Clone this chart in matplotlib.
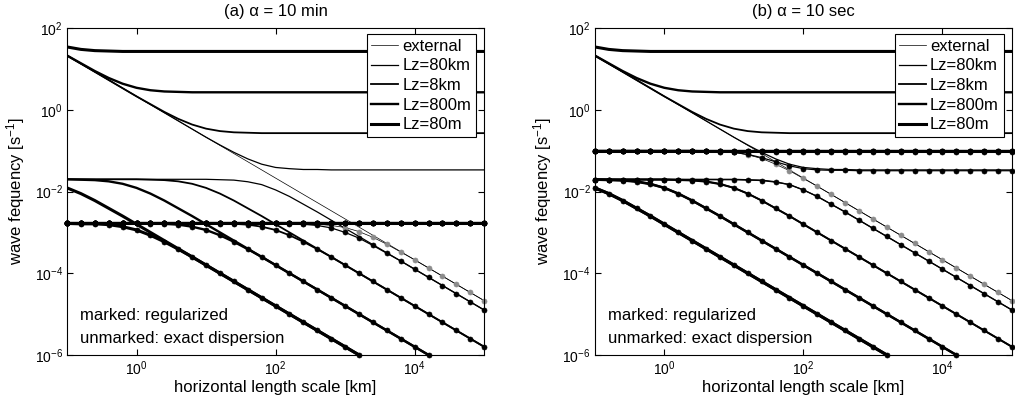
import numpy as np
import matplotlib
matplotlib.use('Agg')
import matplotlib.pyplot as plt

plt.rcParams['font.family'] = ['Liberation Sans', 'DejaVu Sans']
plt.rcParams['mathtext.fontset'] = 'custom'
plt.rcParams['mathtext.rm'] = 'Liberation Sans'
plt.rcParams['mathtext.it'] = 'Liberation Sans:italic'
plt.rcParams['font.size'] = 12

# === log10 of horizontal length scale [km], one point every 0.2 decades ===
LOG_L = [-1.0, -0.8, -0.6, -0.4, -0.2, 0.0, 0.2, 0.4, 0.6, 0.8,
         1.0, 1.2, 1.4, 1.6, 1.8, 2.0, 2.2, 2.4, 2.6, 2.8,
         3.0, 3.2, 3.4, 3.6, 3.8, 4.0, 4.2, 4.4, 4.6, 4.8, 5.0]

LABELS = ['external', 'Lz=80km', 'Lz=8km', 'Lz=800m', 'Lz=80m']
TITLES = ['(a) \u03b1 = 10 min', '(b) \u03b1 = 10 sec']

# === exact dispersion, log10(omega [1/s]) ===
EXT_EXACT = [1.33, 1.13, 0.93, 0.73, 0.53, 0.33, 0.13, -0.07, -0.27, -0.47,
             -0.67, -0.87, -1.07, -1.27, -1.47, -1.67, -1.87, -2.07, -2.27, -2.47,
             -2.67, -2.87, -3.07, -3.27, -3.47, -3.67, -3.87, -4.07, -4.27, -4.47, -4.67]

AC_80KM = [1.33, 1.13, 0.93, 0.73, 0.53, 0.33, 0.13, -0.07, -0.27, -0.47,
           -0.67, -0.86, -1.04, -1.20, -1.33, -1.41, -1.44, -1.46, -1.46, -1.47,
           -1.47, -1.47, -1.47, -1.47, -1.47, -1.47, -1.47, -1.47, -1.47, -1.47, -1.47]
AC_8KM = [1.33, 1.13, 0.93, 0.73, 0.53, 0.33, 0.14, -0.05, -0.22, -0.36,
          -0.46, -0.52, -0.55, -0.56, -0.57, -0.57, -0.57, -0.57, -0.57, -0.57,
          -0.57, -0.57, -0.57, -0.57, -0.57, -0.57, -0.57, -0.57, -0.57, -0.57, -0.57]
AC_800M = [1.33, 1.14, 0.95, 0.78, 0.64, 0.54, 0.48, 0.45, 0.44, 0.43,
           0.43, 0.43, 0.43, 0.43, 0.43, 0.43, 0.43, 0.43, 0.43, 0.43,
           0.43, 0.43, 0.43, 0.43, 0.43, 0.43, 0.43, 0.43, 0.43, 0.43, 0.43]
AC_80M = [1.54, 1.48, 1.45, 1.44, 1.43, 1.43, 1.43, 1.43, 1.43, 1.43,
          1.43, 1.43, 1.43, 1.43, 1.43, 1.43, 1.43, 1.43, 1.43, 1.43,
          1.43, 1.43, 1.43, 1.43, 1.43, 1.43, 1.43, 1.43, 1.43, 1.43, 1.43]

GR_80KM = [-1.70, -1.70, -1.70, -1.70, -1.70, -1.70, -1.70, -1.70, -1.70, -1.70,
           -1.70, -1.71, -1.72, -1.76, -1.83, -1.96, -2.12, -2.31, -2.50, -2.70,
           -2.90, -3.10, -3.30, -3.50, -3.70, -3.90, -4.10, -4.30, -4.50, -4.70, -4.90]
GR_8KM = [-1.70, -1.70, -1.70, -1.70, -1.70, -1.70, -1.71, -1.72, -1.75, -1.81,
          -1.91, -2.05, -2.22, -2.41, -2.60, -2.80, -3.00, -3.20, -3.40, -3.60,
          -3.80, -4.00, -4.20, -4.40, -4.60, -4.80, -5.00, -5.20, -5.40, -5.60, -5.80]
GR_800M = [-1.70, -1.71, -1.72, -1.75, -1.81, -1.91, -2.05, -2.22, -2.41, -2.60,
           -2.80, -3.00, -3.20, -3.40, -3.60, -3.80, -4.00, -4.20, -4.40, -4.60,
           -4.80, -5.00, -5.20, -5.40, -5.60, -5.80, -6.00]
GR_80M = [-1.91, -2.05, -2.22, -2.41, -2.60, -2.80, -3.00, -3.20, -3.40, -3.60,
          -3.80, -4.00, -4.20, -4.40, -4.60, -4.80, -5.00, -5.20, -5.40, -5.60,
          -5.80, -6.00]

# === regularized, alpha = 10 min ===
EXT_REG_A = [-2.78, -2.78, -2.78, -2.78, -2.78, -2.78, -2.78, -2.78, -2.78, -2.78,
             -2.78, -2.78, -2.78, -2.78, -2.78, -2.78, -2.78, -2.79, -2.80, -2.83,
             -2.88, -2.98, -3.12, -3.29, -3.48, -3.67, -3.87, -4.07, -4.27, -4.47, -4.67]
AC_REG_A = [-2.78, -2.78, -2.78, -2.78, -2.78, -2.78, -2.78, -2.78, -2.78, -2.78,
            -2.78, -2.78, -2.78, -2.78, -2.78, -2.78, -2.78, -2.78, -2.78, -2.78,
            -2.78, -2.78, -2.78, -2.78, -2.78, -2.78, -2.78, -2.78, -2.78, -2.78, -2.78]
GR_80KM_REG_A = [-2.78, -2.78, -2.78, -2.78, -2.78, -2.78, -2.78, -2.78, -2.78, -2.78,
                 -2.78, -2.78, -2.78, -2.78, -2.78, -2.78, -2.79, -2.80, -2.83, -2.89,
                 -3.00, -3.14, -3.32, -3.51, -3.70, -3.90, -4.10, -4.30, -4.50, -4.70, -4.90]
GR_8KM_REG_A = [-2.78, -2.78, -2.78, -2.78, -2.78, -2.78, -2.78, -2.78, -2.78, -2.78,
                -2.78, -2.79, -2.79, -2.81, -2.86, -2.94, -3.07, -3.23, -3.41, -3.60,
                -3.80, -4.00, -4.20, -4.40, -4.60, -4.80, -5.00, -5.20, -5.40, -5.60, -5.80]
GR_800M_REG_A = [-2.78, -2.78, -2.78, -2.78, -2.78, -2.78, -2.79, -2.79, -2.81, -2.86,
                 -2.94, -3.07, -3.23, -3.41, -3.60, -3.80, -4.00, -4.20, -4.40, -4.60,
                 -4.80, -5.00, -5.20, -5.40, -5.60, -5.80, -6.00]
GR_80M_REG_A = [-2.78, -2.79, -2.79, -2.81, -2.86, -2.94, -3.07, -3.23, -3.41, -3.60,
                -3.80, -4.00, -4.20, -4.40, -4.60, -4.80, -5.00, -5.20, -5.40, -5.60,
                -5.80, -6.00]

# === regularized, alpha = 10 sec ===
EXT_REG_B = [-1.00, -1.00, -1.00, -1.00, -1.00, -1.00, -1.00, -1.00, -1.01, -1.02,
             -1.04, -1.10, -1.19, -1.33, -1.49, -1.68, -1.87, -2.07, -2.27, -2.47,
             -2.67, -2.87, -3.07, -3.27, -3.47, -3.67, -3.87, -4.07, -4.27, -4.47, -4.67]
AC_80KM_REG_B = [-1.00, -1.00, -1.00, -1.00, -1.00, -1.00, -1.00, -1.00, -1.01, -1.02,
                 -1.04, -1.09, -1.17, -1.27, -1.37, -1.44, -1.47, -1.48, -1.48, -1.49,
                 -1.49, -1.49, -1.49, -1.49, -1.49, -1.49, -1.49, -1.49, -1.49, -1.49, -1.49]
AC_8KM_REG_B = [-1.00, -1.00, -1.00, -1.00, -1.00, -1.00, -1.00, -1.00, -1.01, -1.01,
                -1.02, -1.02, -1.03, -1.03, -1.03, -1.03, -1.03, -1.03, -1.03, -1.03,
                -1.03, -1.03, -1.03, -1.03, -1.03, -1.03, -1.03, -1.03, -1.03, -1.03, -1.03]
AC_800M_REG_B = [-1.00, -1.00, -1.00, -1.00, -1.00, -1.00, -1.00, -1.00, -1.00, -1.00,
                 -1.00, -1.00, -1.00, -1.00, -1.00, -1.00, -1.00, -1.00, -1.00, -1.00,
                 -1.00, -1.00, -1.00, -1.00, -1.00, -1.00, -1.00, -1.00, -1.00, -1.00, -1.00]
AC_80M_REG_B = [-1.00, -1.00, -1.00, -1.00, -1.00, -1.00, -1.00, -1.00, -1.00, -1.00,
                -1.00, -1.00, -1.00, -1.00, -1.00, -1.00, -1.00, -1.00, -1.00, -1.00,
                -1.00, -1.00, -1.00, -1.00, -1.00, -1.00, -1.00, -1.00, -1.00, -1.00, -1.00]
GR_80KM_REG_B = [-1.71, -1.71, -1.71, -1.71, -1.71, -1.71, -1.71, -1.71, -1.71, -1.71,
                 -1.71, -1.72, -1.73, -1.77, -1.83, -1.96, -2.12, -2.31, -2.50, -2.70,
                 -2.90, -3.10, -3.30, -3.50, -3.70, -3.90, -4.10, -4.30, -4.50, -4.70, -4.90]
GR_8KM_REG_B = [-1.71, -1.71, -1.71, -1.71, -1.71, -1.71, -1.72, -1.73, -1.76, -1.82,
                -1.91, -2.05, -2.22, -2.41, -2.60, -2.80, -3.00, -3.20, -3.40, -3.60,
                -3.80, -4.00, -4.20, -4.40, -4.60, -4.80, -5.00, -5.20, -5.40, -5.60, -5.80]
GR_800M_REG_B = [-1.71, -1.72, -1.73, -1.76, -1.82, -1.91, -2.05, -2.22, -2.41, -2.60,
                 -2.80, -3.00, -3.20, -3.40, -3.60, -3.80, -4.00, -4.20, -4.40, -4.60,
                 -4.80, -5.00, -5.20, -5.40, -5.60, -5.80, -6.00]
GR_80M_REG_B = [-1.91, -2.05, -2.22, -2.41, -2.60, -2.80, -3.00, -3.20, -3.40, -3.60,
                -3.80, -4.00, -4.20, -4.40, -4.60, -4.80, -5.00, -5.20, -5.40, -5.60,
                -5.80, -6.00]

# line width per case: external, 80km, 8km, 800m, 80m
WIDTHS = [0.5, 0.9, 1.3, 1.7, 2.2]


def curve(ax, logy, lw, marked=False, gray=False, label=None):
    x = 10 ** np.array(LOG_L[:len(logy)])
    y = 10 ** np.array(logy)
    kw = dict(color='k', lw=lw, solid_joinstyle='round')
    if marked:
        kw.update(marker='o', ms=3.6, mec='0.55' if gray else 'k',
                  mfc='0.55' if gray else 'k', mew=0.5, clip_on=False)
    return ax.plot(x, y, label=label, **kw)[0]


def draw_panel(ax, title, reg_ext, reg_ac, reg_gr):
    exact_ac = [EXT_EXACT, AC_80KM, AC_8KM, AC_800M, AC_80M]
    exact_gr = [GR_80KM, GR_8KM, GR_800M, GR_80M]

    # exact dispersion (unmarked)
    handles = []
    for i, y in enumerate(exact_ac):
        handles.append(curve(ax, y, WIDTHS[i], label=LABELS[i]))
    for i, y in enumerate(exact_gr):
        curve(ax, y, WIDTHS[i + 1])

    # regularized (marked)
    curve(ax, reg_ext, WIDTHS[0], marked=True, gray=True)
    for i, y in enumerate(reg_ac):
        curve(ax, y, WIDTHS[i + 1], marked=True)
    for i, y in enumerate(reg_gr):
        curve(ax, y, WIDTHS[i + 1], marked=True)

    ax.set_xscale('log')
    ax.set_yscale('log')
    ax.set_xlim(1e-1, 1e5)
    ax.set_ylim(1e-6, 1e2)
    ax.set_xticks([1e0, 1e2, 1e4])
    ax.set_yticks([1e-6, 1e-4, 1e-2, 1e0, 1e2])
    ax.minorticks_off()
    ax.tick_params(direction='in', top=True, right=True, length=4, width=0.8,
                   labelsize=10, pad=3)
    for s in ax.spines.values():
        s.set_linewidth(0.8)

    ax.set_title(title, fontsize=12, pad=8.5)
    ax.set_xlabel('horizontal length scale [km]', fontsize=12)
    ax.xaxis.set_label_coords(0.5, -0.078)
    ax.set_ylabel('wave fequency [s$^{-1}$]', fontsize=12)
    ax.yaxis.set_label_coords(-0.097, 0.5)

    ax.text(0.031, 0.122, 'marked: regularized', transform=ax.transAxes,
            va='center', ha='left', fontsize=12)
    ax.text(0.031, 0.049, 'unmarked: exact dispersion', transform=ax.transAxes,
            va='center', ha='left', fontsize=12)

    leg = ax.legend(handles=handles, loc='upper right', bbox_to_anchor=(0.98, 0.982),
                    borderaxespad=0, fontsize=12, handlelength=1.6,
                    handletextpad=0.25, labelspacing=0.28, borderpad=0.28,
                    fancybox=False, framealpha=1, edgecolor='k')
    leg.get_frame().set_linewidth(0.8)


fig = plt.figure(figsize=(10.15, 4.08), dpi=100)
ax_a = fig.add_axes([0.066, 0.130, 0.411, 0.801])
ax_b = fig.add_axes([0.586, 0.130, 0.411, 0.801])

draw_panel(ax_a, TITLES[0], EXT_REG_A, [AC_REG_A, AC_REG_A, AC_REG_A, AC_REG_A],
           [GR_80KM_REG_A, GR_8KM_REG_A, GR_800M_REG_A, GR_80M_REG_A])
draw_panel(ax_b, TITLES[1], EXT_REG_B, [AC_80KM_REG_B, AC_8KM_REG_B, AC_800M_REG_B, AC_80M_REG_B],
           [GR_80KM_REG_B, GR_8KM_REG_B, GR_800M_REG_B, GR_80M_REG_B])

fig.savefig('out.png', dpi=100)
